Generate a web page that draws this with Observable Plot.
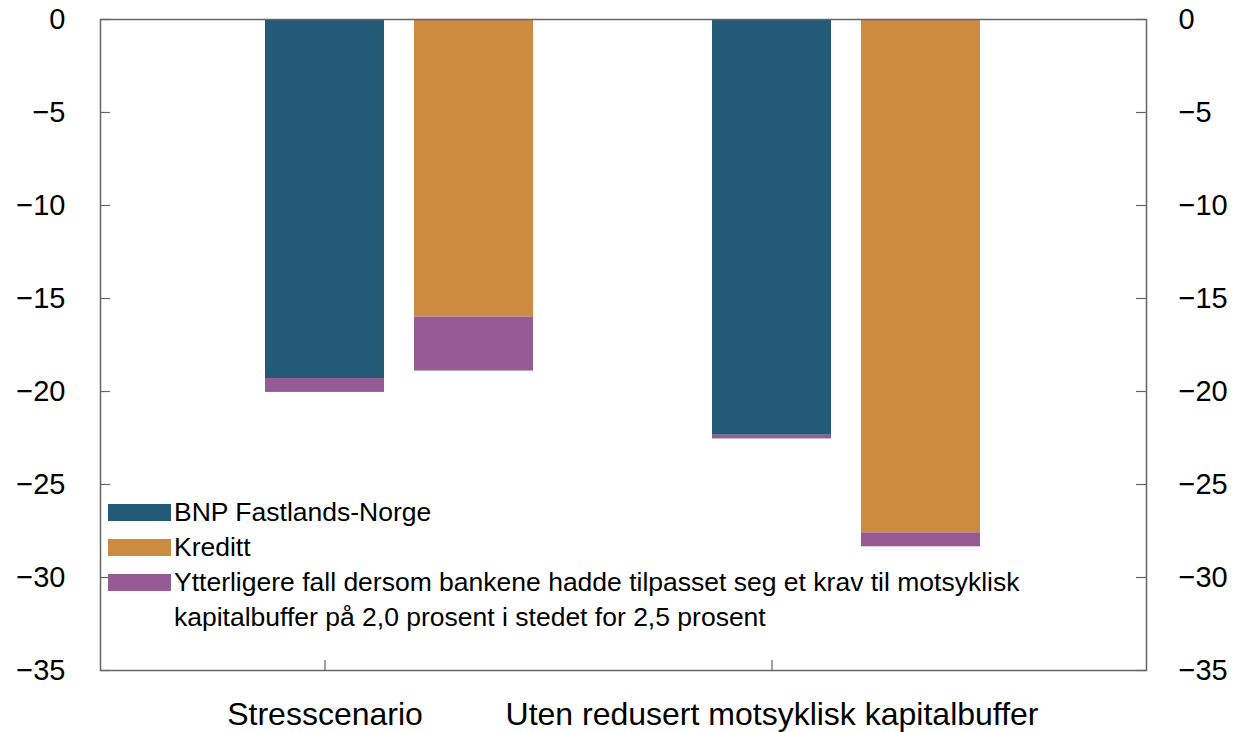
<!DOCTYPE html>
<html>
<head>
<meta charset="utf-8">
<script src="https://cdn.jsdelivr.net/npm/d3@7"></script>
<script src="https://cdn.jsdelivr.net/npm/@observablehq/plot@0.6"></script>
<style>
  html, body { margin: 0; padding: 0; background: #fff; }
  #wrap { position: relative; width: 1235px; height: 732px; font-family: "Liberation Sans", Arial, Helvetica, sans-serif; }
  #legend { position: absolute; left: 108px; top: 495px; }
  .row { display: flex; align-items: flex-start; }
  .sw { width: 63px; height: 17px; margin-top: 9px; margin-right: 3px; flex: none; }
  .lab { font-size: 26.5px; line-height: 35px; color: #000; width: 900px; }
</style>
</head>
<body>
<div id="wrap"><div id="legend"></div></div>
<script>
// ---- data ----
const groups = ["Stresscenario", "Uten redusert motsyklisk kapitalbuffer"];
const seriesNames = ["BNP Fastlands-Norge", "Kreditt", "Ytterligere fall dersom bankene hadde tilpasset seg et krav til motsyklisk kapitalbuffer på 2,0 prosent i stedet for 2,5 prosent"];
const bnpValues = [-19.3, -22.35];
const kredittValues = [-16.0, -27.6];
const extraBnp = [-0.75, -0.2];
const extraKreditt = [-2.9, -0.75];
const yTicks = [0, -5, -10, -15, -20, -25, -30, -35];
const colors = ["#225a78", "#cd8b41", "#965b94"];

// ---- build table ----
const slot = (g, s) => g + "|" + s;
const slotDomain = ["pad-left",
  slot(groups[0], "BNP"), slot(groups[0], "Kreditt"), "gap",
  slot(groups[1], "BNP"), slot(groups[1], "Kreditt"), "pad-right"];
const rows = [];
groups.forEach((g, i) => {
  rows.push({slot: slot(g, "BNP"), comp: seriesNames[0], value: bnpValues[i]});
  rows.push({slot: slot(g, "BNP"), comp: seriesNames[2], value: extraBnp[i]});
  rows.push({slot: slot(g, "Kreditt"), comp: seriesNames[1], value: kredittValues[i]});
  rows.push({slot: slot(g, "Kreditt"), comp: seriesNames[2], value: extraKreditt[i]});
});
const tickSlots = groups.map(g => slot(g, "BNP"));

const W = 1235, H = 732, mT = 19, mB = 62, mL = 100, mR = 89;
const frameH = H - mT - mB, frameW = W - mL - mR;
const axisColor = "#666";
const fmt = d => d < 0 ? "\u2212" + Math.abs(d) : String(d);

const chart = Plot.plot({
  width: W, height: H,
  marginTop: mT, marginBottom: mB, marginLeft: mL, marginRight: mR,
  style: {fontFamily: '"Liberation Sans", Arial, Helvetica, sans-serif', color: "#000", background: "transparent"},
  x: {type: "band", domain: slotDomain, paddingInner: 0.2, paddingOuter: 0.1, align: 0.5, axis: null},
  y: {domain: [-35, 0], axis: null},
  color: {domain: seriesNames, range: colors},
  marks: [
    Plot.barY(rows, {x: "slot", y: "value", fill: "comp"}),
    Plot.frame({stroke: axisColor, strokeWidth: 1.5}),
    Plot.tickY(yTicks, {y: d => d, stroke: axisColor, strokeWidth: 1.2, insetRight: frameW - 10}),
    Plot.tickY(yTicks, {y: d => d, stroke: axisColor, strokeWidth: 1.2, insetLeft: frameW - 10}),
    Plot.tickX(tickSlots, {x: d => d, stroke: axisColor, strokeWidth: 1.2, insetTop: frameH - 10}),
    Plot.axisY(yTicks, {anchor: "left", label: null, tickSize: 0, tickPadding: 35, tickFormat: fmt, fontSize: 29}),
    Plot.axisY(yTicks, {anchor: "right", label: null, tickSize: 0, tickPadding: 32, tickFormat: fmt, fontSize: 29}),
    Plot.axisX(tickSlots, {anchor: "bottom", label: null, tickSize: 0, tickPadding: 32, fontSize: 32,
      tickFormat: s => s.split("|")[0]})
  ]
});
document.getElementById("wrap").prepend(chart);

// ---- legend ----
const legend = document.getElementById("legend");
seriesNames.forEach((name, i) => {
  const row = document.createElement("div");
  row.className = "row";
  const sw = document.createElement("div");
  sw.className = "sw";
  sw.style.background = colors[i];
  const lab = document.createElement("div");
  lab.className = "lab";
  lab.textContent = name;
  row.append(sw, lab);
  legend.append(row);
});
</script>
</body>
</html>
